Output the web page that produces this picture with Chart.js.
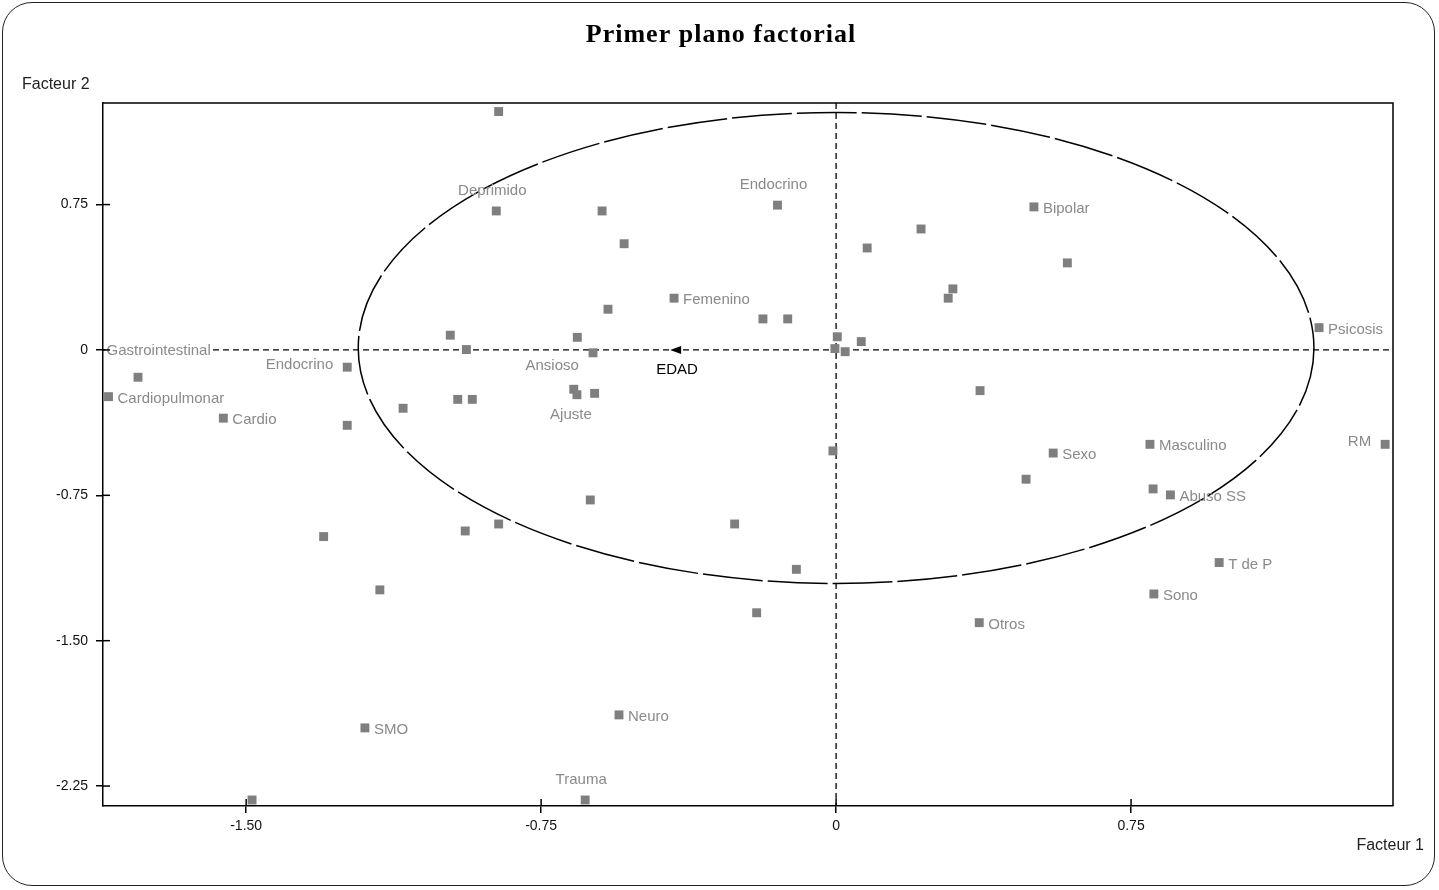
<!DOCTYPE html>
<html>
<head>
<meta charset="utf-8">
<script src="https://cdn.jsdelivr.net/npm/chart.js@4.4.0/dist/chart.umd.min.js"></script>
<style>
html,body{margin:0;padding:0;background:#fff;}
#wrap{position:relative;width:1439px;height:890px;}
#frame{position:absolute;left:2px;top:2px;width:1433px;height:884px;border:1.5px solid #222;border-radius:30px;pointer-events:none;box-sizing:border-box;}
</style>
</head>
<body>
<div id="wrap"><canvas id="c"></canvas><div id="frame"></div></div>
<script>
// ---- data (Facteur 1 = x, Facteur 2 = y) ----
const factor1 = [-0.858,-0.864,-0.595,-0.539,-0.149,0.503,0.216,0.079,0.588,0.297,0.285,-0.412,-0.580,-0.186,-0.123,1.228,-0.981,-0.658,0.003,0.064,-0.940,-0.618,-0.003,0.023,-1.775,-1.243,-1.850,-1.558,-1.243,-1.101,-0.962,-0.925,-0.667,-0.659,-0.614,0.366,-0.008,0.552,0.798,1.396,0.483,0.806,0.850,-0.625,-0.258,-0.858,-0.943,-1.303,-0.101,0.974,0.808,-1.160,-0.202,0.364,-0.552,-1.198,-1.485,-0.638];
const factor2 = [1.230,0.717,0.717,0.548,0.747,0.738,0.624,0.526,0.449,0.315,0.267,0.267,0.210,0.160,0.160,0.115,0.076,0.065,0.068,0.043,0.002,-0.015,0.007,-0.009,-0.141,-0.089,-0.241,-0.352,-0.389,-0.301,-0.255,-0.255,-0.203,-0.231,-0.224,-0.210,-0.521,-0.532,-0.487,-0.487,-0.667,-0.717,-0.748,-0.774,-0.898,-0.898,-0.934,-0.963,-1.132,-1.097,-1.259,-1.238,-1.356,-1.407,-1.883,-1.950,-2.322,-2.322];
const pointNames = ['','Deprimido','','','Endocrino','Bipolar','','','','','','Femenino','','','','Psicosis','','','','','','','','','','Endocrino','Cardiopulmonar','Cardio','','','','','','Ajuste','','','','Sexo','Masculino','RM','','','Abuso SS','','','','','','','T de P','Sono','','','Otros','Neuro','SMO','','Trauma'];
// label placement: r = right, l = left, t = above, b = below
const labelSide = ['','t','','','t','r','','','','','','r','','','','r','','','','','','','','','','l','r','r','','','','','','b','','','','r','r','l','','','r','','','','','','','r','r','','','r','r','r','','t'];
// free text notes
const noteTexts = ['Gastrointestinal','Ansioso'];
const noteX = [-1.855,-0.722];
const noteY = [0,-0.077];
const noteAlign = ['left','center'];
// supplementary variable vector
const edadName = 'EDAD';
const edadVector = [-0.417, 0];
const circleRadius = 1.215;

const xTicks = [-1.5,-0.75,0,0.75];
const xTickLabels = ['-1.50','-0.75','0','0.75'];
const yTicks = [0.75,0,-0.75,-1.5,-2.25];
const yTickLabels = ['0.75','0','-0.75','-1.50','-2.25'];
const xRange = [-1.864, 1.416];
const yRange = [-2.353, 1.274];

const titleText = 'Primer plano factorial';
const xTitle = 'Facteur 1';
const yTitle = 'Facteur 2';

const pts = factor1.map((x,i)=>({x:x,y:factor2[i]}));
const LABEL_FONT = '15px "Liberation Sans", Arial, sans-serif';
const LABEL_COLOR = '#8a8a8a';

const overlay = {
  id:'overlay',
  beforeDatasetsDraw(chart){
    const ctx=chart.ctx, xs=chart.scales.x, ys=chart.scales.y, a=chart.chartArea;
    const x0=xs.getPixelForValue(0), y0=ys.getPixelForValue(0);
    ctx.save();
    ctx.strokeStyle='#000'; ctx.lineWidth=1.3;
    ctx.setLineDash([6,4]);
    ctx.beginPath(); ctx.moveTo(a.left,y0); ctx.lineTo(a.right,y0); ctx.stroke();
    ctx.beginPath(); ctx.moveTo(x0,a.top); ctx.lineTo(x0,a.bottom); ctx.stroke();
    // circle
    const rx=xs.getPixelForValue(circleRadius)-x0;
    const ry=y0-ys.getPixelForValue(circleRadius);
    ctx.setLineDash([60,5]); ctx.lineWidth=1.5;
    ctx.beginPath(); ctx.ellipse(x0,y0-2,rx,ry,0,0,Math.PI*2); ctx.stroke();
    ctx.setLineDash([]);
    // free notes with white background
    ctx.font=LABEL_FONT; ctx.textBaseline='middle';
    noteTexts.forEach((t,i)=>{
      const px=xs.getPixelForValue(noteX[i]), py=ys.getPixelForValue(noteY[i]);
      const w=ctx.measureText(t).width;
      const lx = noteAlign[i]==='left'?px:px-w/2;
      ctx.fillStyle='#fff'; ctx.fillRect(lx-1,py-8,w+2,16);
      ctx.fillStyle=LABEL_COLOR; ctx.textAlign='left'; ctx.fillText(t,lx,py+1);
    });
    // arrow head for EDAD
    const ax=xs.getPixelForValue(edadVector[0]), ay=ys.getPixelForValue(edadVector[1]);
    ctx.fillStyle='#000';
    ctx.beginPath(); ctx.moveTo(ax-2,ay); ctx.lineTo(ax+9,ay-4); ctx.lineTo(ax+9,ay+4); ctx.closePath(); ctx.fill();
    ctx.font='15px "Liberation Sans", Arial, sans-serif'; ctx.textAlign='center';
    ctx.fillText(edadName,ax+5,ay+20);
    ctx.restore();
  },
  afterDatasetsDraw(chart){
    const ctx=chart.ctx, meta=chart.getDatasetMeta(0);
    ctx.save(); ctx.font=LABEL_FONT; ctx.fillStyle=LABEL_COLOR; ctx.textBaseline='middle';
    meta.data.forEach((el,i)=>{
      const t=pointNames[i]; if(!t) return;
      const s=labelSide[i];
      if(s==='r'){ctx.textAlign='left'; ctx.fillText(t,el.x+9,el.y+2);}
      else if(s==='l'){ctx.textAlign='right'; ctx.fillText(t,el.x-14,el.y-2);}
      else if(s==='t'){ctx.textAlign='center'; ctx.fillText(t,el.x-4,el.y-20);}
      else if(s==='b'){ctx.textAlign='center'; ctx.fillText(t,el.x-6,el.y+20);}
    });
    ctx.restore();
  },
  afterDraw(chart){
    const ctx=chart.ctx, a=chart.chartArea, xs=chart.scales.x, ys=chart.scales.y;
    ctx.save();
    ctx.strokeStyle='#000'; ctx.lineWidth=1.5;
    ctx.beginPath(); ctx.moveTo(a.left,a.top); ctx.lineTo(a.right,a.top); ctx.lineTo(a.right,a.bottom); ctx.stroke();
    // inner half of tick marks
    xTicks.forEach(v=>{const p=xs.getPixelForValue(v); ctx.beginPath(); ctx.moveTo(p,a.bottom); ctx.lineTo(p,a.bottom-7); ctx.stroke();});
    yTicks.forEach(v=>{const p=ys.getPixelForValue(v); ctx.beginPath(); ctx.moveTo(a.left,p); ctx.lineTo(a.left+7,p); ctx.stroke();});
    ctx.fillStyle='#000'; ctx.textBaseline='alphabetic';
    ctx.font='bold 26px "Liberation Serif", "Times New Roman", serif'; ctx.textAlign='center';
    if('letterSpacing' in ctx) ctx.letterSpacing='1px';
    ctx.fillText(titleText,721,42);
    if('letterSpacing' in ctx) ctx.letterSpacing='0px';
    ctx.fillStyle='#222'; ctx.textBaseline='middle';
    ctx.font='16px "Liberation Sans", Arial, sans-serif'; ctx.textAlign='left';
    ctx.fillText(yTitle,22,85);
    ctx.textAlign='right';
    ctx.fillText(xTitle,1424,846);
    ctx.restore();
  }
};

new Chart(document.getElementById('c'),{
  type:'scatter',
  data:{datasets:[{data:pts,pointStyle:'rect',pointRadius:6.3,pointHoverRadius:6.3,backgroundColor:'#7f7f7f',borderWidth:0}]},
  options:{
    responsive:true, maintainAspectRatio:false, animation:false,
    layout:{padding:{top:103,right:46,left:0,bottom:0}},
    plugins:{legend:{display:false},tooltip:{enabled:false},title:{display:false}},
    scales:{
      x:{type:'linear',min:xRange[0],max:xRange[1],
        afterBuildTicks(s){s.ticks=xTicks.map(v=>({value:v}));},
        afterFit(s){s.height=84;},
        ticks:{autoSkip:false,maxRotation:0,padding:5,color:'#111',font:{family:'"Liberation Sans", Arial, sans-serif',size:14},callback:(v,i)=>xTickLabels[i]},
        grid:{drawOnChartArea:false,drawTicks:true,tickLength:7,color:'#000',lineWidth:1.5},
        border:{display:true,color:'#000',width:1.5}},
      y:{type:'linear',min:yRange[0],max:yRange[1],
        afterBuildTicks(s){s.ticks=yTicks.map(v=>({value:v}));},
        afterFit(s){s.width=103;},
        ticks:{autoSkip:false,padding:8,color:'#111',font:{family:'"Liberation Sans", Arial, sans-serif',size:14},callback:(v,i)=>yTickLabels[i]},
        grid:{drawOnChartArea:false,drawTicks:true,tickLength:7,color:'#000',lineWidth:1.5},
        border:{display:true,color:'#000',width:1.5}}
    }
  },
  plugins:[overlay]
});
</script>
</body>
</html>
